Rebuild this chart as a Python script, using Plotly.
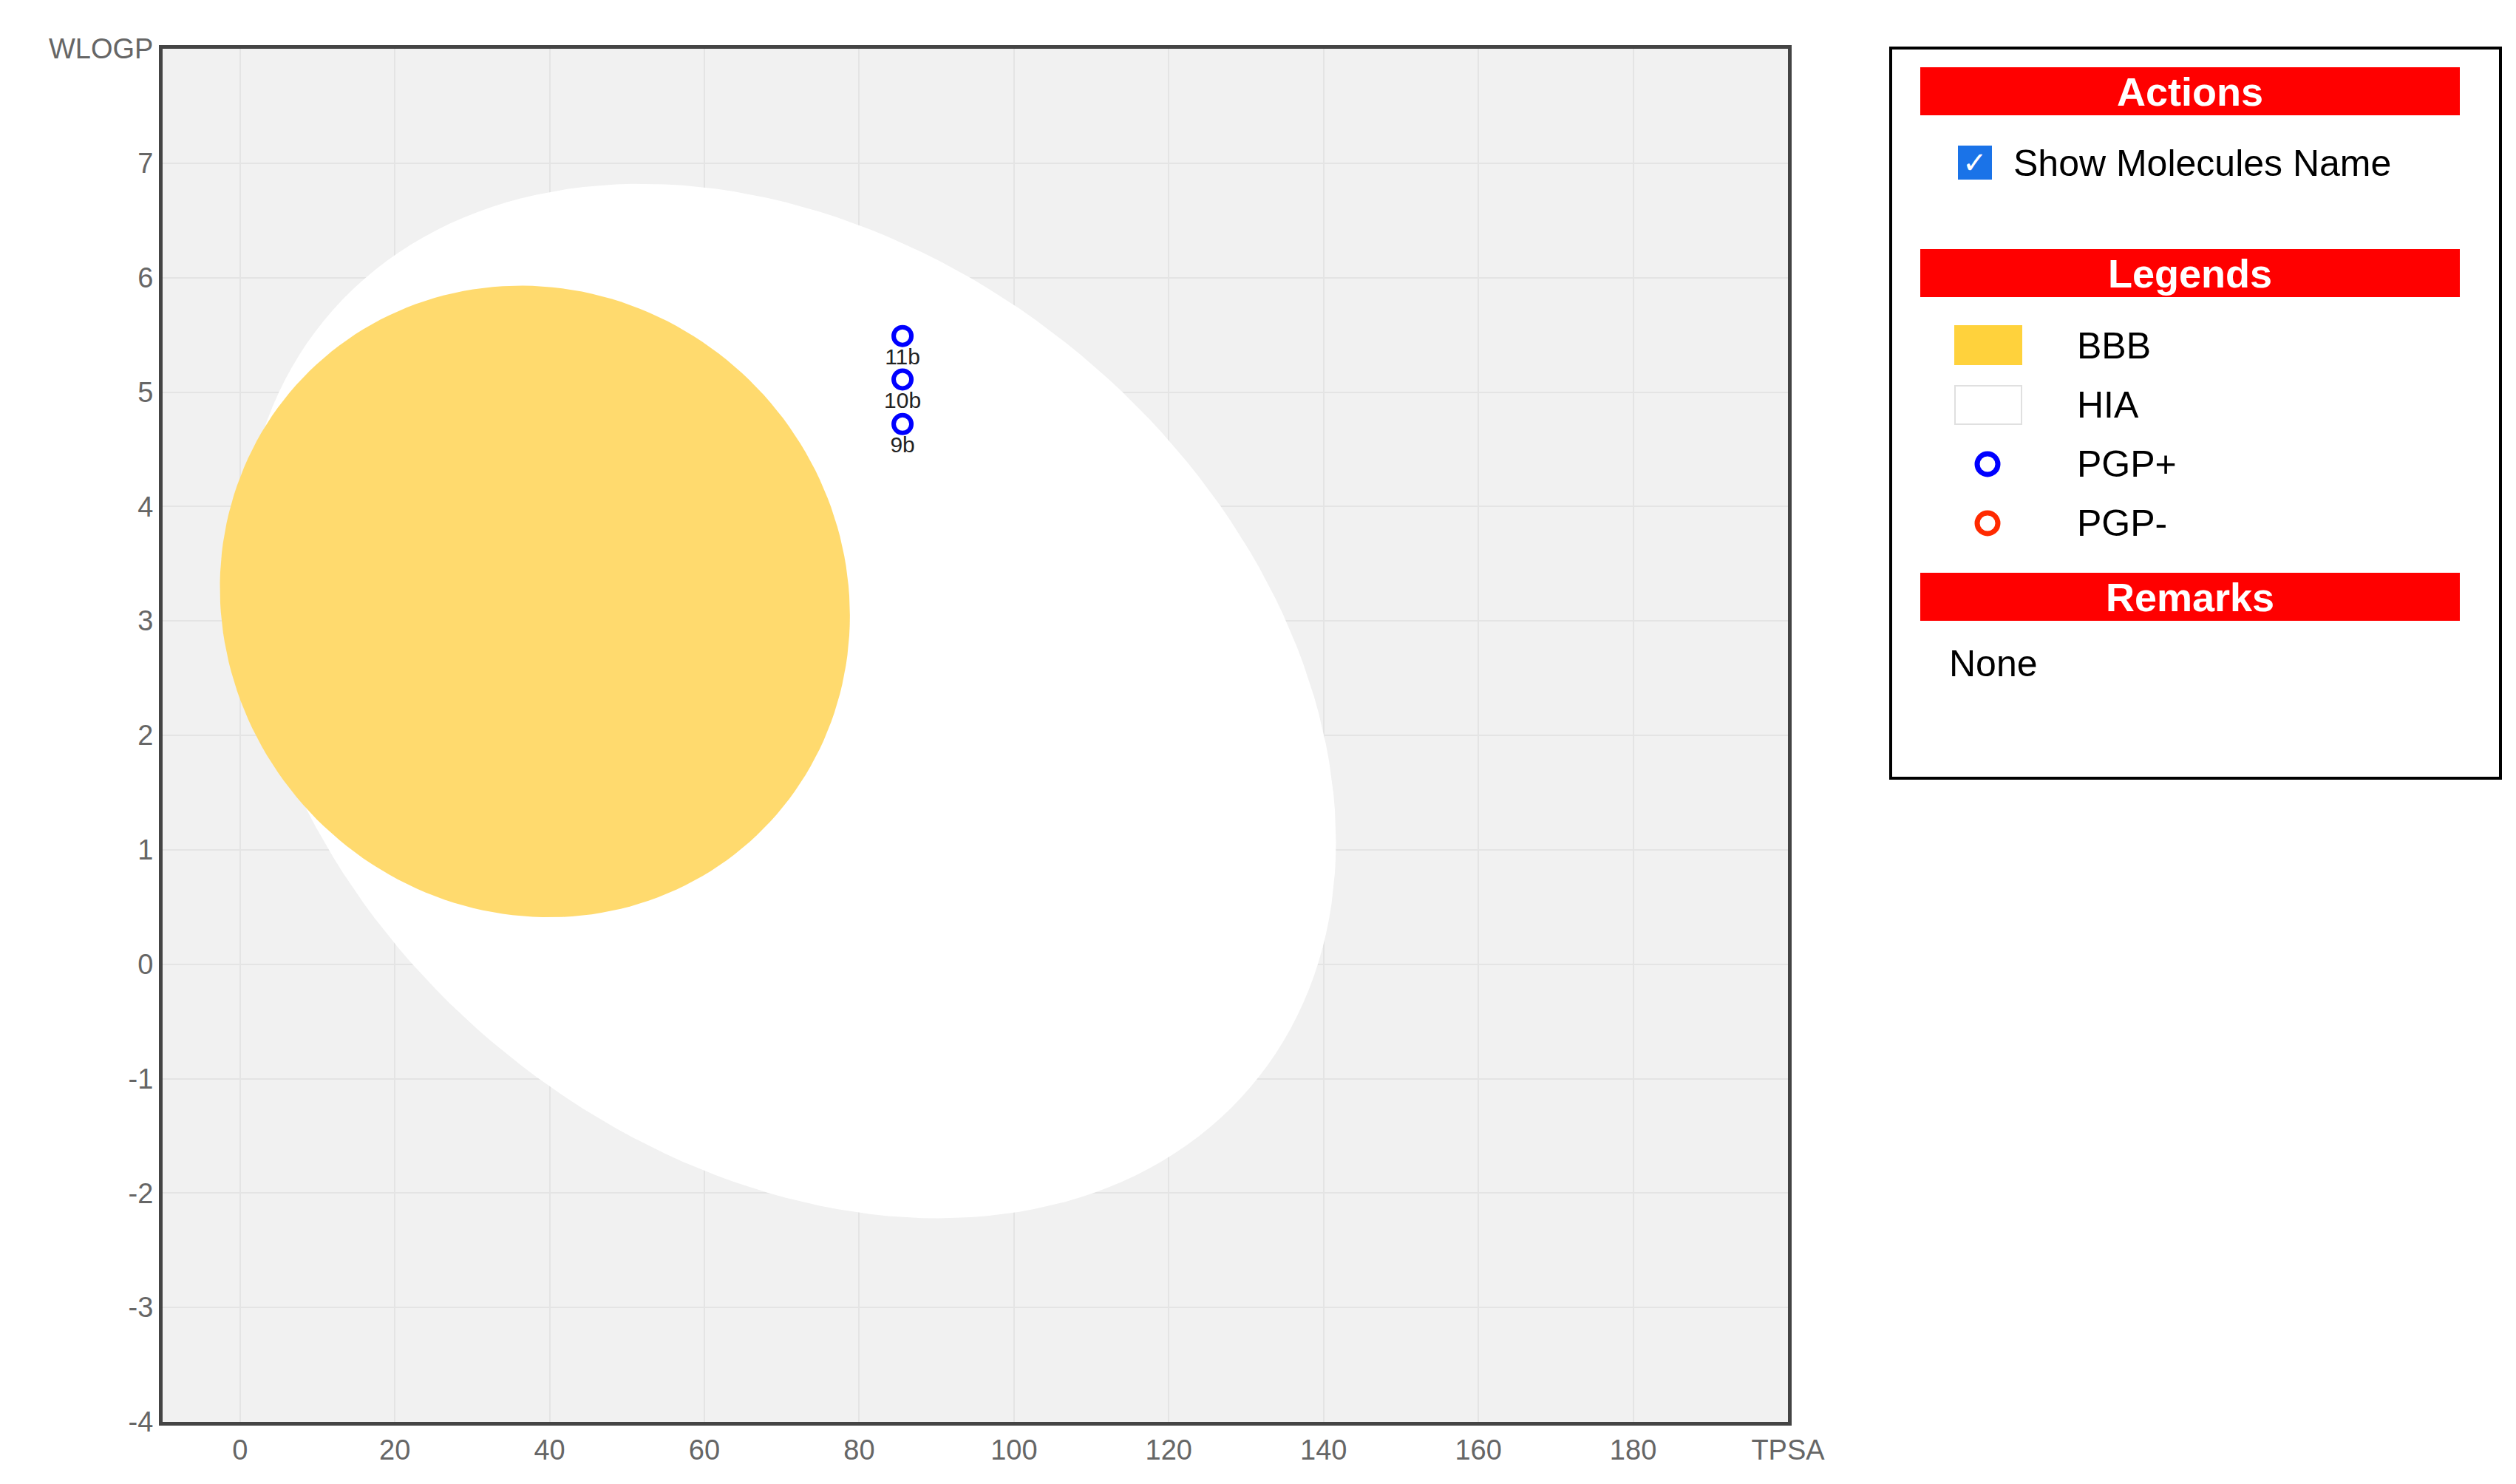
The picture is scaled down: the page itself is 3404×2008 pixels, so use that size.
import numpy as np
import plotly.graph_objects as go

# molecules (TPSA, WLOGP)
names = ["11b", "10b", "9b"]
tpsa = [85.6, 85.6, 85.6]
wlogp = [5.49, 5.11, 4.72]

x_ticks = [0, 20, 40, 60, 80, 100, 120, 140, 160, 180, 200]
x_text = [str(v) for v in x_ticks[:-1]] + ["TPSA"]
y_ticks = list(range(-4, 9))
y_text = [str(v) for v in y_ticks[:-1]] + ["WLOGP"]

# egg regions: centre and affine axes (data units)
hia = dict(x0=71.0, y0=2.3, ax=70.6, ay=-1.23, bx=0.0, by=4.35)
bbb = dict(x0=38.1, y0=3.17, ax=40.7, ay=-0.123, bx=0.0, by=2.757)

W, H = 3404, 2008
L, R, T, B = 212, 993, 58, 92
pw, ph = W - L - R, H - T - B


def px(x):
    return (x - L) / pw


def py(y):
    return (H - B - y) / ph


def ellipse(e):
    t = np.linspace(0, 2 * np.pi, 200)
    x = e["x0"] + e["ax"] * np.cos(t) + e["bx"] * np.sin(t)
    y = e["y0"] + e["ay"] * np.cos(t) + e["by"] * np.sin(t)
    return x, y


fig = go.Figure()
for e, col in [(hia, "white"), (bbb, "rgba(255,218,110,1)")]:
    ex, ey = ellipse(e)
    fig.add_trace(go.Scatter(x=ex, y=ey, mode="lines", fill="toself", fillcolor=col,
                             line=dict(width=0), hoverinfo="skip", showlegend=False))

fig.add_trace(go.Scatter(
    x=tpsa, y=wlogp, mode="markers+text", text=names, textposition="bottom center",
    textfont=dict(family="Liberation Sans", size=30, color="#222"),
    marker=dict(symbol="circle-open", size=24, color="blue", line=dict(width=6)),
    showlegend=False))

shapes = []
ann = []
font = "Liberation Sans"


def text(x, y, s, size=50, color="black", xa="left", fam=font):
    ann.append(dict(xref="paper", yref="paper", x=px(x), y=py(y), text=s, xanchor=xa,
                    yanchor="middle", showarrow=False, font=dict(family=fam, size=size, color=color)))


# outer panel box
shapes.append(dict(type="rect", xref="paper", yref="paper", x0=px(2550), x1=px(3375),
                   y0=py(1045), y1=py(57), line=dict(color="black", width=4), fillcolor="white"))
for title, ytop in [("Actions", 83), ("Legends", 329), ("Remarks", 767)]:
    shapes.append(dict(type="rect", xref="paper", yref="paper", x0=px(2590), x1=px(3320),
                       y0=py(ytop + 65), y1=py(ytop), line=dict(width=0), fillcolor="#ff0000"))
    text(2955, ytop + 33, "<b>%s</b>" % title, size=54, color="white", xa="center")

# checkbox
shapes.append(dict(type="rect", xref="paper", yref="paper", x0=px(2642), x1=px(2686),
                   y0=py(234), y1=py(190), line=dict(color="#1a73e8", width=2), fillcolor="#1a73e8"))
text(2664, 212, "✓", size=40, color="white", xa="center", fam="DejaVu Sans")
text(2714, 213, "Show Molecules Name")

# legend items
shapes.append(dict(type="rect", xref="paper", yref="paper", x0=px(2637), x1=px(2727),
                   y0=py(485), y1=py(433), line=dict(color="#ffd23c", width=2), fillcolor="#ffd23c"))
shapes.append(dict(type="rect", xref="paper", yref="paper", x0=px(2637), x1=px(2727),
                   y0=py(566), y1=py(514), line=dict(color="#e0e0e0", width=2), fillcolor="white"))
for col, cy in [("blue", 620), ("#ff2a00", 700)]:
    shapes.append(dict(type="circle", xref="paper", yref="paper", x0=px(2667), x1=px(2695),
                       y0=py(cy + 14), y1=py(cy - 14), line=dict(color=col, width=7)))
for lab, cy in [("BBB", 460), ("HIA", 540), ("PGP+", 620), ("PGP-", 700)]:
    text(2800, cy, lab)
text(2627, 890, "None")

axis_font = dict(family=font, size=38, color="#666")
fig.update_layout(
    width=W, height=H, margin=dict(l=L, r=R, t=T, b=B),
    paper_bgcolor="white", plot_bgcolor="#f1f1f1",
    xaxis=dict(range=[-10, 200], tickvals=x_ticks, ticktext=x_text, tickfont=axis_font,
               showgrid=True, gridcolor="#e4e4e4", gridwidth=2, zeroline=False,
               showline=True, linecolor="#444", linewidth=5, mirror=True, ticks=""),
    yaxis=dict(range=[-4, 8], tickvals=y_ticks, ticktext=y_text, tickfont=axis_font,
               showgrid=True, gridcolor="#e4e4e4", gridwidth=2, zeroline=False,
               showline=True, linecolor="#444", linewidth=5, mirror=True, ticks=""),
    shapes=shapes, annotations=ann,
)

fig.write_html("out.html")
